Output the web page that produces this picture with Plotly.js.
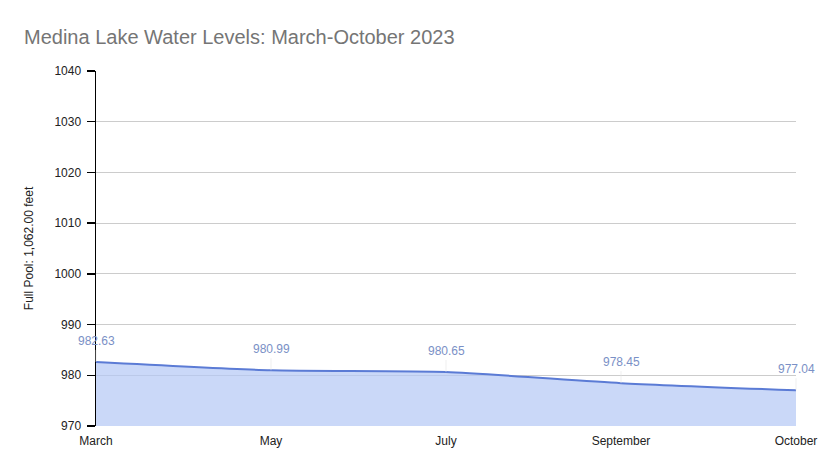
<!DOCTYPE html>
<html>
<head>
<meta charset="utf-8">
<script src="https://cdn.plot.ly/plotly-3.0.1.min.js"></script>
<style>html,body{margin:0;padding:0;background:#fff;}#chart{width:820px;height:470px;}</style>
</head>
<body>
<div id="chart"></div>
<script>
const months = ["March", "May", "July", "September", "October"];
const levels = [982.63, 980.99, 980.65, 978.45, 977.04];
const labels = ["982.63", "980.99", "980.65", "978.45", "977.04"];
const yTicks = [970, 980, 990, 1000, 1010, 1020, 1030, 1040];

const trace = {
  x: months,
  y: levels,
  type: "scatter",
  mode: "lines",
  line: {color: "#5b7bd5", width: 2, shape: "spline", smoothing: 0.6},
  fill: "tozeroy",
  fillcolor: "rgba(180,200,245,0.7)",
  hoverinfo: "x+y"
};

const annotations = months.map((m, i) => ({
  x: m, y: levels[i], xref: "x", yref: "y",
  text: labels[i],
  showarrow: true, arrowhead: 0, arrowwidth: 0.6, arrowcolor: "#e4e4e4",
  ax: 0, ay: -12, yanchor: "bottom",
  font: {family: "Liberation Sans, Arial, sans-serif", size: 12, color: "#7a90c6"}
}));

const layout = {
  width: 820, height: 470,
  margin: {l: 96, r: 24, t: 71, b: 44},
  paper_bgcolor: "#fff", plot_bgcolor: "#fff",
  showlegend: false,
  title: {
    text: "Medina Lake Water Levels: March-October 2023",
    x: 24 / 820, xref: "container", xanchor: "left",
    y: 0.921, yref: "container", yanchor: "middle",
    font: {family: "Liberation Sans, Arial, sans-serif", size: 20, color: "#757575"}
  },
  xaxis: {
    type: "category", range: [0, 4],
    showgrid: false, zeroline: false, showline: false,
    ticks: "", ticklabelstandoff: 6,
    tickfont: {family: "Liberation Sans, Arial, sans-serif", size: 12, color: "#222"},
    fixedrange: true
  },
  yaxis: {
    range: [970, 1040], tickvals: yTicks,
    showgrid: true, gridcolor: "#cccccc", gridwidth: 1,
    zeroline: false, showline: true, linecolor: "#000", linewidth: 1.5,
    ticks: "outside", ticklen: 8, tickcolor: "#000", tickwidth: 1.5,
    ticklabelstandoff: 3,
    tickfont: {family: "Liberation Sans, Arial, sans-serif", size: 12, color: "#222"},
    title: {text: "Full Pool: 1,062.00 feet", standoff: 18,
      font: {family: "Liberation Sans, Arial, sans-serif", size: 12, color: "#222"}},
    fixedrange: true
  },
  annotations: annotations
};

Plotly.newPlot("chart", [trace], layout, {displayModeBar: false, staticPlot: true});
</script>
</body>
</html>
